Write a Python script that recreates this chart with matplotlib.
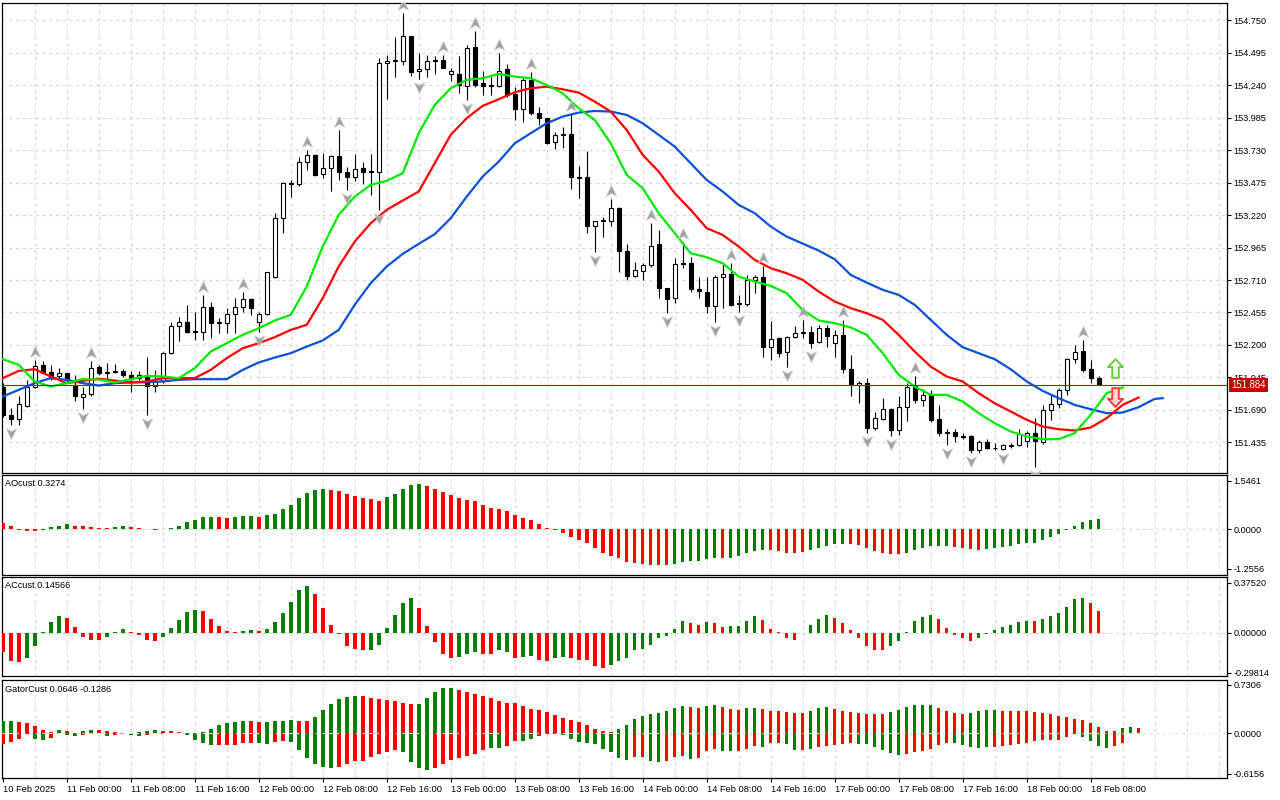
import matplotlib
matplotlib.use("Agg")
import matplotlib.pyplot as plt
from matplotlib.path import Path
from matplotlib import transforms
import numpy as np

plt.rcParams['font.family'] = ['Liberation Sans', 'DejaVu Sans']

# ---------------- data (H1, 10 Feb 16:00 .. 18 Feb 09:00) ----------------
opens = [151.873, 151.651, 151.617, 151.724, 151.873, 152.044, 151.986, 151.957, 151.978, 151.886,
         151.790, 151.813, 152.025, 151.989, 151.999, 151.999, 151.960, 151.939, 151.960, 151.879,
         151.918, 152.135, 152.352, 152.379, 152.311, 152.300, 152.496, 152.379, 152.371, 152.441,
         152.496, 152.559, 152.384, 152.441, 152.737, 153.195, 153.470, 153.462, 153.635, 153.693,
         153.541, 153.588, 153.685, 153.557, 153.517, 153.588, 153.564, 153.557, 154.413, 154.436,
         154.434, 154.627, 154.352, 154.365, 154.439, 154.436, 154.329, 154.329, 154.235, 154.538,
         154.256, 154.242, 154.237, 154.365, 154.172, 154.051, 154.282, 154.025, 153.981, 153.792,
         153.855, 153.855, 153.517, 153.517, 153.138, 153.182, 153.177, 153.274, 152.934, 152.745,
         152.782, 152.829, 152.991, 152.646, 152.567, 152.842, 152.842, 152.638, 152.614, 152.502,
         152.732, 152.758, 152.528, 152.520, 152.711, 152.737, 152.187, 152.253, 152.148, 152.261,
         152.305, 152.305, 152.222, 152.331, 152.214, 152.279, 152.009, 151.886, 151.900, 151.551,
         151.619, 151.695, 151.528, 151.711, 151.879, 151.769, 151.813, 151.617, 151.517, 151.515,
         151.486, 151.481, 151.376, 151.441, 151.392, 151.381, 151.410, 151.413, 151.449, 151.512,
         151.441, 151.685, 151.735, 151.847, 152.088, 152.153, 152.009, 151.944]
highs = [151.900, 151.703, 151.795, 151.926, 152.083, 152.070, 152.044, 152.017, 151.983, 151.965,
         151.873, 152.070, 152.044, 152.057, 152.049, 152.009, 151.999, 151.999, 152.104, 152.004,
         152.148, 152.384, 152.418, 152.515, 152.462, 152.593, 152.541, 152.410, 152.489, 152.567,
         152.612, 152.567, 152.455, 152.776, 153.235, 153.483, 153.496, 153.680, 153.732, 153.701,
         153.706, 153.693, 153.889, 153.596, 153.701, 153.640, 153.701, 154.452, 154.478, 154.622,
         154.805, 154.627, 154.491, 154.478, 154.470, 154.478, 154.373, 154.470, 154.557, 154.669,
         154.352, 154.308, 154.491, 154.405, 154.229, 154.295, 154.347, 154.067, 153.981, 153.876,
         153.915, 154.012, 153.606, 153.724, 153.177, 153.208, 153.345, 153.287, 152.991, 152.855,
         152.842, 153.156, 153.104, 152.646, 152.881, 153.012, 152.894, 152.737, 152.737, 152.750,
         152.842, 152.842, 152.593, 152.750, 152.750, 152.821, 152.389, 152.266, 152.271, 152.350,
         152.397, 152.345, 152.358, 152.358, 152.318, 152.397, 152.122, 151.913, 151.939, 151.677,
         151.787, 151.703, 151.795, 151.900, 151.957, 151.852, 151.847, 151.729, 151.538, 151.541,
         151.507, 151.494, 151.455, 151.460, 151.428, 151.420, 151.433, 151.538, 151.525, 151.625,
         151.729, 151.808, 151.860, 152.096, 152.201, 152.235, 152.083, 151.957]
lows = [151.630, 151.572, 151.572, 151.716, 151.860, 151.978, 151.926, 151.939, 151.900, 151.756,
        151.695, 151.795, 151.965, 151.926, 151.983, 151.947, 151.834, 151.926, 151.651, 151.834,
        151.900, 152.127, 152.227, 152.297, 152.240, 152.240, 152.253, 152.297, 152.292, 152.297,
        152.455, 152.436, 152.305, 152.436, 152.724, 153.078, 153.360, 153.452, 153.575, 153.528,
        153.509, 153.413, 153.496, 153.418, 153.491, 153.462, 153.379, 153.261, 154.135, 154.308,
        154.400, 154.313, 154.287, 154.308, 154.329, 154.373, 154.276, 154.182, 154.125, 154.224,
        154.164, 154.164, 154.224, 154.146, 153.968, 153.955, 154.007, 153.928, 153.776, 153.737,
        153.745, 153.423, 153.352, 153.078, 152.928, 153.051, 153.138, 152.769, 152.711, 152.737,
        152.711, 152.816, 152.572, 152.449, 152.528, 152.803, 152.619, 152.567, 152.449, 152.384,
        152.489, 152.502, 152.462, 152.502, 152.606, 152.109, 152.083, 152.109, 152.030, 152.253,
        152.253, 152.174, 152.214, 152.187, 152.109, 151.978, 151.795, 151.742, 151.507, 151.533,
        151.612, 151.481, 151.494, 151.606, 151.742, 151.722, 151.598, 151.481, 151.415, 151.441,
        151.460, 151.350, 151.350, 151.381, 151.376, 151.371, 151.389, 151.407, 151.397, 151.240,
        151.423, 151.612, 151.703, 151.808, 152.057, 151.991, 151.900, 151.884]
closes = [151.651, 151.617, 151.735, 151.873, 152.038, 151.983, 151.952, 151.983, 151.926, 151.795,
          151.813, 152.017, 151.978, 151.978, 151.991, 151.960, 151.931, 151.960, 151.879, 151.918,
          152.135, 152.345, 152.384, 152.305, 152.300, 152.496, 152.371, 152.371, 152.441, 152.496,
          152.559, 152.489, 152.441, 152.769, 153.195, 153.470, 153.462, 153.635, 153.693, 153.536,
          153.588, 153.685, 153.557, 153.523, 153.580, 153.557, 153.557, 154.413, 154.428, 154.428,
          154.627, 154.347, 154.368, 154.431, 154.428, 154.379, 154.352, 154.242, 154.530, 154.242,
          154.235, 154.235, 154.355, 154.164, 154.051, 154.282, 154.020, 153.981, 153.790, 153.850,
          153.847, 153.517, 153.512, 153.138, 153.177, 153.174, 153.274, 152.934, 152.742, 152.790,
          152.829, 152.981, 152.646, 152.562, 152.834, 152.834, 152.638, 152.627, 152.509, 152.732,
          152.758, 152.515, 152.520, 152.711, 152.737, 152.187, 152.245, 152.140, 152.261, 152.297,
          152.297, 152.214, 152.331, 152.274, 152.279, 152.009, 151.886, 151.900, 151.551, 151.625,
          151.695, 151.528, 151.716, 151.873, 151.769, 151.808, 151.612, 151.512, 151.512, 151.481,
          151.478, 151.376, 151.441, 151.389, 151.387, 151.413, 151.415, 151.502, 151.507, 151.449,
          151.690, 151.735, 151.847, 152.088, 152.148, 152.004, 151.944, 151.884]

# Alligator lines read every second bar (as displayed, i.e. already shifted)
jaw_idx = list(range(0, 145, 2)) + [145]
jaw = [151.795, 151.847, 151.900, 151.939, 151.926, 151.900, 151.881, 151.900, 151.905, 151.907,
       151.913, 151.926, 151.931, 151.931, 151.931, 152.004, 152.062, 152.101, 152.135, 152.187,
       152.235, 152.318, 152.515, 152.685, 152.816, 152.915, 152.994, 153.070, 153.195, 153.365,
       153.523, 153.640, 153.784, 153.863, 153.941, 153.994, 154.025, 154.038, 154.033, 154.007,
       153.941, 153.850, 153.758, 153.627, 153.496, 153.405, 153.300, 153.235, 153.130, 153.051,
       152.996, 152.941, 152.873, 152.750, 152.690, 152.633, 152.593, 152.515, 152.397, 152.279,
       152.182, 152.135, 152.088, 152.009, 151.913, 151.839, 151.782, 151.729, 151.695, 151.664,
       151.669, 151.711, 151.776, 151.782]
teeth_idx = list(range(0, 143, 2))
teeth = [151.939, 151.996, 152.009, 151.952, 151.900, 151.918, 151.934, 151.920, 151.905, 151.913,
         151.939, 151.939, 151.939, 152.004, 152.096, 152.174, 152.214, 152.261, 152.318, 152.358,
         152.567, 152.816, 153.012, 153.156, 153.261, 153.334, 153.405, 153.627, 153.850, 153.981,
         154.078, 154.130, 154.185, 154.216, 154.229, 154.208, 154.182, 154.112, 154.033, 153.889,
         153.693, 153.562, 153.392, 153.261, 153.117, 153.064, 152.973, 152.868, 152.803, 152.763,
         152.711, 152.619, 152.541, 152.489, 152.449, 152.397, 152.279, 152.148, 152.030, 151.952,
         151.913, 151.821, 151.742, 151.677, 151.612, 151.559, 151.538, 151.528, 151.551, 151.625,
         151.729, 151.787]
lips_idx = list(range(0, 141, 2))
lips = [152.088, 152.044, 151.913, 151.873, 151.900, 151.931, 151.928, 151.905, 151.931, 151.957,
        151.952, 151.939, 152.017, 152.148, 152.214, 152.279, 152.331, 152.392, 152.436, 152.659,
        152.973, 153.222, 153.365, 153.457, 153.489, 153.549, 153.863, 154.085, 154.216, 154.282,
        154.295, 154.329, 154.308, 154.295, 154.242, 154.177, 154.059, 153.968, 153.784, 153.536,
        153.431, 153.235, 153.078, 152.920, 152.889, 152.842, 152.737, 152.698, 152.664, 152.606,
        152.475, 152.392, 152.371, 152.337, 152.279, 152.135, 151.965, 151.873, 151.808, 151.808,
        151.756, 151.664, 151.585, 151.520, 151.481, 151.460, 151.460, 151.507, 151.651, 151.821,
        151.865]

frac_up = [4, 11, 25, 30, 38, 42, 50, 55, 59, 62, 66, 71, 76, 81, 85, 91, 95, 100, 105, 114, 135]
frac_dn = [1, 10, 18, 32, 43, 47, 52, 58, 74, 83, 89, 92, 98, 101, 108, 111, 118, 121, 125, 129]

last_price = 151.884
signal_bar = 139
signal_up = 152.020
signal_dn = 151.790

ao = [0.21, 0.10, -0.02, -0.04, -0.05, -0.02, 0.06, 0.12, 0.16, 0.12,
      0.09, 0.06, 0.04, 0.03, 0.06, 0.10, 0.06, 0.03, 0.01, -0.01,
      0.01, 0.03, 0.09, 0.22, 0.28, 0.38, 0.38, 0.38, 0.37, 0.38,
      0.41, 0.41, 0.40, 0.44, 0.49, 0.63, 0.78, 1.00, 1.15, 1.26,
      1.29, 1.26, 1.22, 1.12, 1.07, 1.00, 0.95, 0.91, 1.04, 1.12,
      1.29, 1.41, 1.44, 1.38, 1.29, 1.20, 1.10, 1.00, 0.94, 0.90,
      0.78, 0.69, 0.63, 0.58, 0.44, 0.36, 0.28, 0.16, 0.03, -0.02,
      -0.12, -0.24, -0.33, -0.45, -0.59, -0.75, -0.84, -0.90, -1.04, -1.07,
      -1.09, -1.12, -1.12, -1.12, -1.09, -1.03, -1.00, -1.00, -0.93, -0.90,
      -0.90, -0.90, -0.84, -0.74, -0.69, -0.65, -0.67, -0.69, -0.74, -0.74,
      -0.71, -0.65, -0.60, -0.52, -0.46, -0.46, -0.48, -0.51, -0.60, -0.68,
      -0.75, -0.77, -0.77, -0.74, -0.65, -0.59, -0.52, -0.52, -0.52, -0.56,
      -0.59, -0.62, -0.65, -0.62, -0.59, -0.55, -0.54, -0.47, -0.42, -0.42,
      -0.33, -0.23, -0.16, -0.01, 0.12, 0.24, 0.31, 0.33]
ao_runs = [('r', 5), ('g', 4), ('r', 5), ('g', 2), ('r', 4), ('g', 7), ('r', 2), ('g', 3), ('r', 1),
           ('g', 8), ('r', 7), ('g', 5), ('r', 31), ('g', 6), ('r', 1), ('g', 5), ('r', 5), ('g', 5),
           ('r', 7), ('g', 6), ('r', 4), ('g', 15)]

ac = [-0.145, -0.21, -0.215, -0.185, -0.10, 0.005, 0.08, 0.13, 0.11, 0.045,
      -0.03, -0.05, -0.05, -0.03, 0.008, 0.03, 0.005, -0.015, -0.05, -0.06,
      -0.03, 0.04, 0.10, 0.16, 0.17, 0.165, 0.105, 0.05, 0.015, 0.008,
      0.015, 0.02, 0.015, 0.03, 0.08, 0.15, 0.23, 0.32, 0.35, 0.29,
      0.19, 0.06, -0.01, -0.095, -0.12, -0.125, -0.125, -0.09, 0.04, 0.135,
      0.225, 0.26, 0.19, 0.05, -0.065, -0.155, -0.19, -0.18, -0.16, -0.14,
      -0.155, -0.155, -0.13, -0.14, -0.185, -0.18, -0.17, -0.20, -0.21, -0.19,
      -0.18, -0.185, -0.20, -0.20, -0.245, -0.26, -0.24, -0.21, -0.19, -0.13,
      -0.12, -0.09, -0.035, -0.02, 0.03, 0.09, 0.075, 0.06, 0.08, 0.075,
      0.045, 0.05, 0.05, 0.09, 0.125, 0.10, 0.03, 0.008, -0.035, -0.05,
      -0.003, 0.06, 0.105, 0.135, 0.11, 0.075, 0.02, -0.035, -0.095, -0.13,
      -0.13, -0.10, -0.06, 0.008, 0.09, 0.12, 0.135, 0.105, 0.04, -0.013,
      -0.04, -0.06, -0.035, -0.008, 0.02, 0.045, 0.06, 0.08, 0.09, 0.09,
      0.105, 0.125, 0.15, 0.195, 0.255, 0.26, 0.225, 0.165]
ac_runs = [('r', 3), ('g', 5), ('r', 5), ('g', 3), ('r', 4), ('g', 5), ('r', 5), ('g', 2), ('r', 1),
           ('g', 6), ('r', 7), ('g', 6), ('r', 5), ('g', 3), ('r', 2), ('g', 2), ('r', 1), ('g', 2),
           ('r', 2), ('g', 2), ('r', 5), ('g', 10), ('r', 2), ('g', 1), ('r', 2), ('g', 4), ('r', 5),
           ('g', 4), ('r', 7), ('g', 6), ('r', 5), ('g', 7), ('r', 1), ('g', 6), ('r', 2)]

gator_up = [0.18, 0.18, 0.16, 0.155, 0.10, 0.05, 0.02, 0.045, 0.03, 0.005,
            0.03, 0.045, 0.045, 0.03, 0.015, 0.005, 0.005, 0.015, 0.03, 0.045,
            0.03, 0.03, 0.015, 0.005, 0.005, 0.015, 0.06, 0.12, 0.15, 0.165,
            0.18, 0.18, 0.165, 0.165, 0.18, 0.18, 0.195, 0.18, 0.18, 0.24,
            0.35, 0.44, 0.51, 0.54, 0.56, 0.56, 0.53, 0.51, 0.50, 0.48,
            0.45, 0.44, 0.44, 0.53, 0.62, 0.68, 0.68, 0.65, 0.62, 0.59,
            0.56, 0.53, 0.48, 0.45, 0.45, 0.41, 0.36, 0.35, 0.32, 0.27,
            0.23, 0.195, 0.165, 0.12, 0.06, 0.03, 0.02, 0.06, 0.12, 0.21,
            0.26, 0.29, 0.30, 0.33, 0.38, 0.41, 0.39, 0.38, 0.41, 0.42,
            0.39, 0.36, 0.35, 0.38, 0.38, 0.36, 0.33, 0.33, 0.32, 0.30,
            0.30, 0.33, 0.38, 0.39, 0.36, 0.33, 0.32, 0.30, 0.29, 0.29,
            0.29, 0.32, 0.35, 0.39, 0.42, 0.42, 0.42, 0.38, 0.33, 0.30,
            0.29, 0.30, 0.33, 0.35, 0.35, 0.33, 0.33, 0.33, 0.33, 0.32,
            0.30, 0.29, 0.26, 0.24, 0.21, 0.195, 0.15, 0.09, 0.03, 0.03,
            0.075, 0.09, 0.075]
gator_up_runs = [('g', 2), ('r', 5), ('g', 1), ('r', 1), ('g', 3), ('r', 5), ('g', 3), ('r', 4),
                 ('g', 7), ('r', 2), ('g', 4), ('r', 2), ('g', 6), ('r', 7), ('g', 5), ('r', 20),
                 ('g', 9), ('r', 2), ('g', 2), ('r', 3), ('g', 2), ('r', 6), ('g', 3), ('r', 7),
                 ('g', 6), ('r', 4), ('g', 4), ('r', 15), ('g', 2), ('r', 1)]
gator_dn = [-0.16, -0.13, -0.09, -0.01, -0.09, -0.105, -0.075, -0.005, -0.03, -0.045,
            -0.025, -0.015, -0.005, -0.045, -0.03, -0.015, -0.025, -0.045, -0.025, -0.005,
            -0.01, -0.005, -0.005, -0.03, -0.105, -0.15, -0.18, -0.18, -0.18, -0.18,
            -0.15, -0.15, -0.15, -0.165, -0.135, -0.12, -0.135, -0.255, -0.375, -0.47,
            -0.51, -0.53, -0.51, -0.47, -0.42, -0.42, -0.36, -0.32, -0.29, -0.26,
            -0.29, -0.44, -0.53, -0.56, -0.53, -0.47, -0.41, -0.38, -0.35, -0.32,
            -0.26, -0.23, -0.23, -0.20, -0.12, -0.12, -0.09, -0.045, -0.015, -0.015,
            -0.03, -0.09, -0.135, -0.15, -0.165, -0.24, -0.29, -0.38, -0.41, -0.36,
            -0.36, -0.42, -0.44, -0.42, -0.36, -0.35, -0.39, -0.38, -0.27, -0.24,
            -0.27, -0.27, -0.27, -0.24, -0.20, -0.21, -0.15, -0.15, -0.165, -0.26,
            -0.26, -0.24, -0.21, -0.20, -0.18, -0.165, -0.15, -0.165, -0.165, -0.21,
            -0.26, -0.30, -0.33, -0.32, -0.29, -0.27, -0.24, -0.18, -0.15, -0.15,
            -0.18, -0.21, -0.23, -0.21, -0.21, -0.20, -0.18, -0.165, -0.15, -0.12,
            -0.105, -0.105, -0.105, -0.06, -0.015, -0.06, -0.12, -0.20, -0.23, -0.20,
            -0.15]
gator_dn_runs = [('r', 4), ('g', 2), ('r', 2), ('g', 2), ('r', 3), ('g', 1), ('r', 2), ('g', 2),
                 ('r', 2), ('g', 1), ('r', 2), ('g', 4), ('r', 5), ('g', 2), ('r', 2), ('g', 6),
                 ('r', 8), ('g', 4), ('r', 7), ('g', 2), ('r', 2), ('g', 2), ('r', 2), ('g', 10),
                 ('r', 2), ('g', 2), ('r', 3), ('g', 1), ('r', 3), ('g', 2), ('r', 3), ('g', 1),
                 ('r', 2), ('g', 2), ('r', 1), ('g', 1), ('r', 5), ('g', 6), ('r', 6), ('g', 5),
                 ('r', 10), ('g', 5), ('r', 2)]

price_ticks = [154.750, 154.495, 154.240, 153.985, 153.730, 153.475, 153.220, 152.965,
               152.710, 152.455, 152.200, 151.945, 151.690, 151.435]
ao_ticks = [1.5461, 0.0, -1.2556]
ao_tick_labels = ['1.5461', '0.0000', '-1.2556']
ac_ticks = [0.37520, 0.0, -0.29814]
ac_tick_labels = ['0.37520', '0.00000', '-0.29814']
gator_ticks = [0.7306, 0.0, -0.6156]
gator_tick_labels = ['0.7306', '0.0000', '-0.6156']
time_ticks = [0, 8, 16, 24, 32, 40, 48, 56, 64, 72, 80, 88, 96, 104, 112, 120, 128, 136]
time_labels = ['10 Feb 2025', '11 Feb 00:00', '11 Feb 08:00', '11 Feb 16:00', '12 Feb 00:00',
               '12 Feb 08:00', '12 Feb 16:00', '13 Feb 00:00', '13 Feb 08:00', '13 Feb 16:00',
               '14 Feb 00:00', '14 Feb 08:00', '14 Feb 16:00', '17 Feb 00:00', '17 Feb 08:00',
               '17 Feb 16:00', '18 Feb 00:00', '18 Feb 08:00']
ao_title = 'AOcust 0.3274'
ac_title = 'ACcust 0.14566'
gator_title = 'GatorCust 0.0646 -0.1286'

# ---------------- drawing ----------------
COL = {'g': '#008000', 'r': '#ff0000'}


def expand(runs):
    return [COL[c] for c, n in runs for _ in range(n)]


W, H = 1280, 800
fig = plt.figure(figsize=(12.8, 8), dpi=100)
fig.patch.set_facecolor('white')


def px_axes(x0, y0, x1, y1):
    return fig.add_axes([x0 / W, 1 - y1 / H, (x1 - x0) / W, (y1 - y0) / H])


ax_m = px_axes(2, 3, 1227, 473)
ax_ao = px_axes(2, 475, 1227, 575)
ax_ac = px_axes(2, 577, 1227, 676)
ax_g = px_axes(2, 680, 1227, 778)
axes = [ax_m, ax_ao, ax_ac, ax_g]

FS = 6.6
GRID = dict(color='#d9d9d9', lw=0.8, ls=(0, (3, 3)), zorder=0)
XL = (-0.09, 153.04)
for ax in axes:
    ax.set_xlim(*XL)
    ax.set_facecolor('white')
    ax.yaxis.tick_right()
    ax.tick_params(axis='y', direction='out', length=3, width=0.8, pad=1.5,
                   labelsize=FS, colors='black')
    ax.tick_params(axis='x', bottom=False, labelbottom=False)
    for s in ax.spines.values():
        s.set_linewidth(0.9)
        s.set_color('black')
    for gx in range(4, 153, 4):
        ax.axvline(gx, **GRID)

# main panel
ax_m.set_ylim(151.194, 154.886)
ax_m.set_yticks(price_ticks)
ax_m.set_yticklabels(['%.3f' % v for v in price_ticks])
for v in price_ticks:
    ax_m.axhline(v, **GRID)

o = np.array(opens); h = np.array(highs); l = np.array(lows); c = np.array(closes)
idx = np.arange(len(o))
ax_m.vlines(idx, l, h, color='black', lw=0.8, zorder=3)
bull = c >= o
body_bot = np.minimum(o, c)
body_h = np.maximum(np.abs(c - o), 0.0005)
ax_m.bar(idx, body_h, bottom=body_bot, width=0.5,
         color=np.where(bull, 'white', 'black'), edgecolor='black', linewidth=0.8, zorder=4)

ax_m.plot(jaw_idx, jaw, color='#0b50d8', lw=1.6, zorder=5)
ax_m.plot(teeth_idx, teeth, color='#ff0000', lw=1.6, zorder=5)
ax_m.plot(lips_idx, lips, color='#00ea00', lw=1.6, zorder=5)

ax_m.axhline(last_price, color='#d40000', lw=0.8, zorder=6)

up_path = Path([(0, 1), (0.85, -0.8), (0, -0.3), (-0.85, -0.8), (0, 1)],
               [Path.MOVETO, Path.LINETO, Path.LINETO, Path.LINETO, Path.CLOSEPOLY])
dn_path = Path([(0, -1), (0.85, 0.8), (0, 0.3), (-0.85, 0.8), (0, -1)],
               [Path.MOVETO, Path.LINETO, Path.LINETO, Path.LINETO, Path.CLOSEPOLY])
t_up = transforms.offset_copy(ax_m.transData, fig=fig, x=0, y=8, units='dots')
t_dn = transforms.offset_copy(ax_m.transData, fig=fig, x=0, y=-8, units='dots')
ax_m.plot(frac_up, h[frac_up], ls='none', marker=up_path, ms=8.5, mfc='#a0a0a0',
          mec='#c8c8c8', mew=0.6, transform=t_up, zorder=7)
ax_m.plot(frac_dn, l[frac_dn], ls='none', marker=dn_path, ms=8.5, mfc='#a0a0a0',
          mec='#c8c8c8', mew=0.6, transform=t_dn, zorder=7)

blk_up = Path([(0, 1), (0.8, 0.15), (0.35, 0.15), (0.35, -1), (-0.35, -1), (-0.35, 0.15),
               (-0.8, 0.15), (0, 1)],
              [Path.MOVETO] + [Path.LINETO] * 6 + [Path.CLOSEPOLY])
blk_dn = Path([(0, -1), (0.8, -0.15), (0.35, -0.15), (0.35, 1), (-0.35, 1), (-0.35, -0.15),
               (-0.8, -0.15), (0, -1)],
              [Path.MOVETO] + [Path.LINETO] * 6 + [Path.CLOSEPOLY])
ax_m.plot([signal_bar], [signal_up], ls='none', marker=blk_up, ms=13.5, mfc='#f4fff0',
          mec='#66cc33', mew=1.3, zorder=8)
ax_m.plot([signal_bar], [signal_dn], ls='none', marker=blk_dn, ms=13.5, mfc='#ffd8d8',
          mec='#ff3030', mew=1.3, zorder=8)

bt = transforms.blended_transform_factory(ax_m.transAxes, ax_m.transData)
ax_m.text(1.0 + 4 / 1225, last_price, '%.3f' % last_price, transform=bt, ha='left',
          va='center', color='white', fontsize=6.9, zorder=20, clip_on=False,
          bbox=dict(boxstyle='square,pad=0.22', fc='#c40000', ec='none'))

# AO
ax_ao.set_ylim(-1.451, 1.724)
ax_ao.axhline(0, **GRID)
ax_ao.bar(np.arange(len(ao)), ao, width=0.45, color=expand(ao_runs), zorder=3)
ax_ao.set_yticks(ao_ticks)
ax_ao.set_yticklabels(ao_tick_labels)

# AC
ax_ac.set_ylim(-0.321, 0.418)
ax_ac.axhline(0, **GRID)
ax_ac.bar(np.arange(len(ac)), ac, width=0.45, color=expand(ac_runs), zorder=3)
ax_ac.set_yticks(ac_ticks)
ax_ac.set_yticklabels(ac_tick_labels)

# Gator
ax_g.set_ylim(-0.679, 0.80)
ax_g.bar(np.arange(len(gator_up)), gator_up, width=0.45, color=expand(gator_up_runs), zorder=3)
ax_g.bar(np.arange(len(gator_dn)), gator_dn, width=0.45, color=expand(gator_dn_runs), zorder=3)
ax_g.axhline(0, color='#e4e4e4', lw=0.8, ls=(0, (3, 3)), zorder=4)
ax_g.set_yticks(gator_ticks)
ax_g.set_yticklabels(gator_tick_labels)

ax_g.set_xticks(time_ticks)
ax_g.set_xticklabels(time_labels)
ax_g.tick_params(axis='x', bottom=True, labelbottom=True, direction='out', length=3,
                 width=0.8, pad=2, labelsize=6.7, colors='black')
for t in ax_g.get_xticklabels():
    t.set_ha('left')

fig.text(5 / W, 1 - 484 / H, ao_title, fontsize=FS, va='center', ha='left')
fig.text(5 / W, 1 - 586 / H, ac_title, fontsize=FS, va='center', ha='left')
fig.text(5 / W, 1 - 689 / H, gator_title, fontsize=FS, va='center', ha='left')

fig.savefig('out.png', dpi=100, facecolor='white')
